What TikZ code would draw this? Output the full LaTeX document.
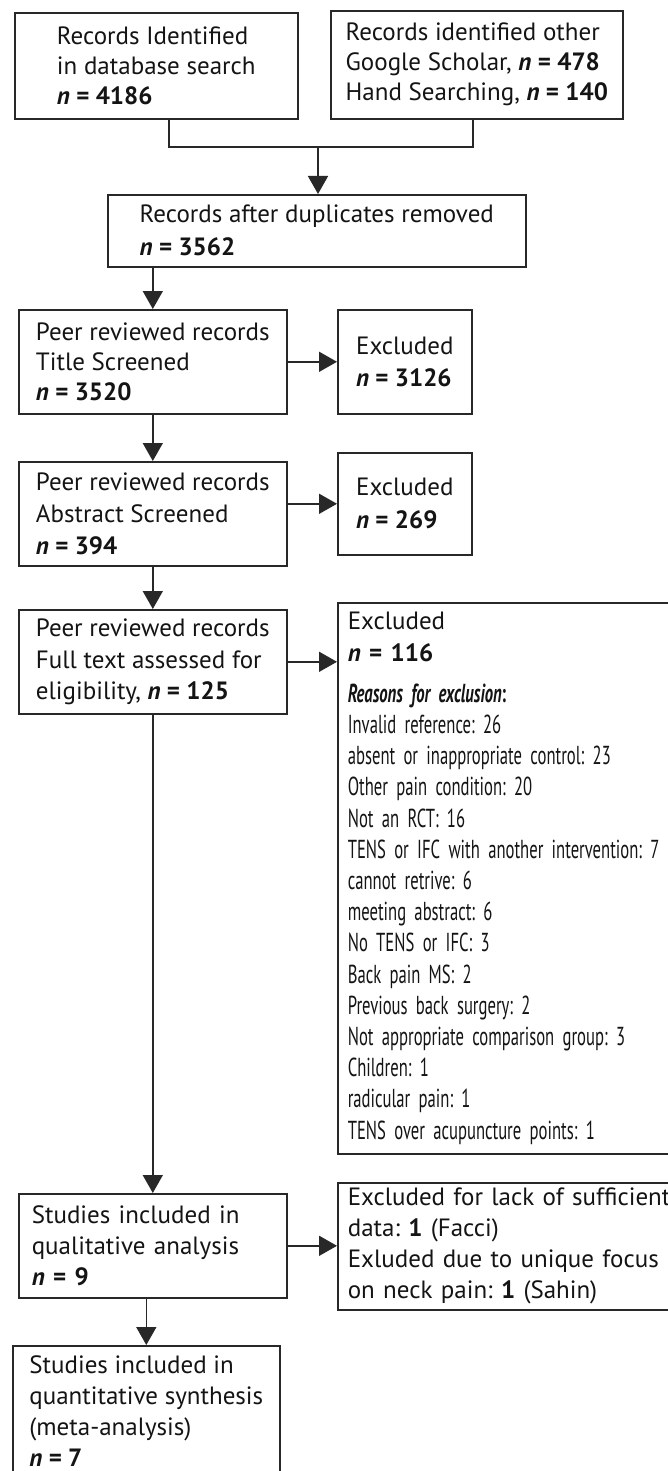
\documentclass[tikz,border=0pt]{standalone}
\usepackage{fontspec}
\setmainfont{PT Sans}
\newfontfamily\narrowfont{PT Sans}[FakeStretch=0.64, WordSpace=0.55]
\usepackage{xcolor}
\definecolor{flowline}{RGB}{40,40,40}
\definecolor{flowtext}{RGB}{20,20,20}
\usetikzlibrary{arrows.meta,positioning,calc}
\frenchspacing
\newcommand{\nval}[1]{\textbf{\textit{n} = #1}}
\newcommand{\reason}[1]{{\narrowfont\fontsize{26}{31.2}\selectfont #1}}

\begin{document}
\begin{tikzpicture}[x=1pt,y=-1pt,
  flowbox/.style={
    rectangle, draw=flowline, line width=1.6pt,
    anchor=north west, align=left, inner sep=0pt,
    text=flowtext,
    font=\fontsize{25}{30}\selectfont
  },
  conn/.style={-{Triangle[length=18pt,width=20pt]}, line width=1.6pt, draw=flowline},
  link/.style={line width=1.6pt, draw=flowline}
]
\useasboundingbox (0,0) rectangle (668,1471);
\fill[white] (0,0) rectangle (668,1471);
\clip (0,0) rectangle (668,1471);

\node[flowbox, minimum width=283pt, minimum height=106pt] (recdb) at (14,12)
  {Records Identified\\in database search\\\nval{4186}};
\node[flowbox, minimum width=292pt, minimum height=108pt] (recother) at (330,10)
  {Records identified other\\Google Scholar, \nval{478}\\Hand Searching, \nval{140}};
\node[flowbox, minimum width=418pt, minimum height=72pt, font=\fontsize{25}{33}\selectfont] (dedup) at (107,194)
  {Records after duplicates removed\\\nval{3562}};
\node[flowbox, minimum width=268pt, minimum height=104pt] (title) at (18,309)
  {Peer reviewed records\\Title Screened\\\nval{3520}};
\node[flowbox, minimum width=134pt, minimum height=104pt, font=\fontsize{25}{32}\selectfont] (extitle) at (337,309)
  {Excluded\\\nval{3126}};
\node[flowbox, minimum width=268pt, minimum height=104pt, font=\fontsize{25}{32}\selectfont] (abstr) at (18,461)
  {Peer reviewed records\\Abstract Screened\\\nval{394}};
\node[flowbox, minimum width=134pt, minimum height=102pt, font=\fontsize{25}{33}\selectfont] (exabstr) at (337,452)
  {Excluded\\\nval{269}};
\node[flowbox, minimum width=268pt, minimum height=104pt, font=\fontsize{25}{31.5}\selectfont] (fulltext) at (18,609)
  {Peer reviewed records\\Full text assessed for\\eligibility, \nval{125}};
\node[flowbox, text width=400pt, inner xsep=10pt, minimum height=551pt, font=\fontsize{25}{31.2}\selectfont] (exfull) at (337,602)
  {Excluded\\\nval{116}\\[10pt]
   \reason{\textbf{\textit{Reasons for exclusion}:}}\\
   \reason{Invalid reference: 26}\\
   \reason{absent or inappropriate control: 23}\\
   \reason{Other pain condition: 20}\\
   \reason{Not an RCT: 16}\\
   \reason{TENS or IFC with another intervention: 7}\\
   \reason{cannot retrive: 6}\\
   \reason{meeting abstract: 6}\\
   \reason{No TENS or IFC: 3}\\
   \reason{Back pain MS: 2}\\
   \reason{Previous back surgery: 2}\\
   \reason{Not appropriate comparison group: 3}\\
   \reason{Children: 1}\\
   \reason{radicular pain: 1}\\
   \reason{TENS over acupuncture points: 1}};
\node[flowbox, text width=242pt, inner xsep=13pt, minimum height=104pt, font=\fontsize{25}{31}\selectfont] (qual) at (18,1193)
  {Studies included in\\qualitative analysis\\\nval{9}};
\node[flowbox, text width=400pt, inner xsep=10pt, minimum height=127pt, font=\fontsize{25}{31}\selectfont] (exdata) at (337,1182)
  {Excluded for lack of sufficient\\data: \textbf{1} (Facci)\\Exluded due to unique focus\\on neck pain: \textbf{1} (Sahin)};
\node[flowbox, minimum width=267pt, minimum height=130pt, font=\fontsize{25}{31}\selectfont] (quant) at (12,1345)
  {Studies included in\\quantitative synthesis\\(meta-analysis)\\\nval{7}};

\coordinate (join) at (318,147);
\draw[link] ([xshift=12.5pt]recdb.south) |- (join) -| ([xshift=-4pt]recother.south);
\draw[conn] (join) -- (join |- dedup.north);
\draw[conn] (dedup.south -| title.north) -- (title.north);
\draw[conn] (title.east) -- (extitle.west);
\draw[conn] (title.south) -- (abstr.north);
\draw[conn] (abstr.east |- exabstr.west) -- (exabstr.west);
\draw[conn] (abstr.south) -- (fulltext.north);
\draw[conn] (fulltext.east) -- (fulltext.east -| exfull.west);
\draw[conn] (fulltext.south) -- (qual.north);
\draw[conn] (qual.east) -- (qual.east -| exdata.west);
\draw[conn] (qual.south -| quant.north) -- (quant.north);
\end{tikzpicture}
\end{document}
